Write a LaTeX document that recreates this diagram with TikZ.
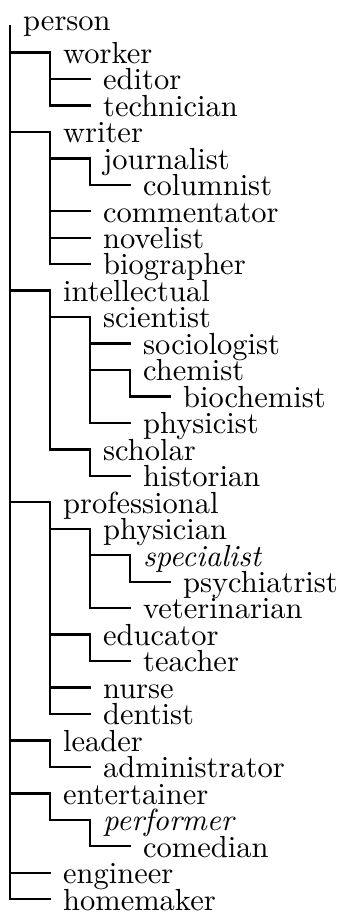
\documentclass[tikz,border=0pt]{standalone}
\usepackage{tikz}
\tikzset{
  term/.style={anchor=base west, inner sep=0pt, font=\fontsize{10}{12}\selectfont},
  branch/.style={line width=0.7pt, line cap=rect},
}
\newcommand{\shrink}[1]{\scalebox{0.915}{#1}}

\begin{document}
\begin{tikzpicture}[x=0.3pt, y=-0.3pt]
  \useasboundingbox (0,0) rectangle (341,915);

  % Terms, one row each: name / depth / text
  \foreach \n/\l/\t [count=\r from 0] in {
      person/0/person, worker/1/worker, editor/2/editor, technician/2/technician,
      writer/1/writer, journalist/2/journalist, columnist/3/columnist,
      commentator/2/commentator, novelist/2/novelist, biographer/2/biographer,
      intellectual/1/intellectual, scientist/2/scientist, sociologist/3/sociologist,
      chemist/3/chemist, biochemist/4/biochemist, physicist/3/physicist,
      scholar/2/scholar, historian/3/historian,
      professional/1/professional, physician/2/physician,
      specialist/3/\textit{specialist}, psychiatrist/4/psychiatrist,
      veterinarian/3/veterinarian, educator/2/educator, teacher/3/teacher,
      nurse/2/nurse, dentist/2/dentist, leader/1/leader,
      administrator/2/administrator, entertainer/1/entertainer,
      performer/2/\textit{performer}, comedian/3/comedian,
      engineer/1/engineer, homemaker/1/homemaker} {
    \pgfmathsetmacro{\by}{\r==0 ? 30 : 63.3 + (\r-1)*26.46}
    \node [term] (\n) at ({22.5 + 40*\l}, \by) {\shrink{\t}};
    \coordinate (\n-c) at ({10 + 40*\l}, {\by - 10.8});
  }
  \coordinate (person-c) at (10, 26);

  % Branches: parent / child
  \foreach \p/\c in {
      person/worker, worker/editor, worker/technician,
      person/writer, writer/journalist, journalist/columnist,
      writer/commentator, writer/novelist, writer/biographer,
      person/intellectual, intellectual/scientist, scientist/sociologist,
      scientist/chemist, chemist/biochemist, scientist/physicist,
      intellectual/scholar, scholar/historian,
      person/professional, professional/physician, physician/specialist,
      specialist/psychiatrist, physician/veterinarian,
      professional/educator, educator/teacher,
      professional/nurse, professional/dentist,
      person/leader, leader/administrator,
      person/entertainer, entertainer/performer, performer/comedian,
      person/engineer, person/homemaker} {
    \draw [branch] (\p-c) |- (\c-c);
  }
\end{tikzpicture}
\end{document}
